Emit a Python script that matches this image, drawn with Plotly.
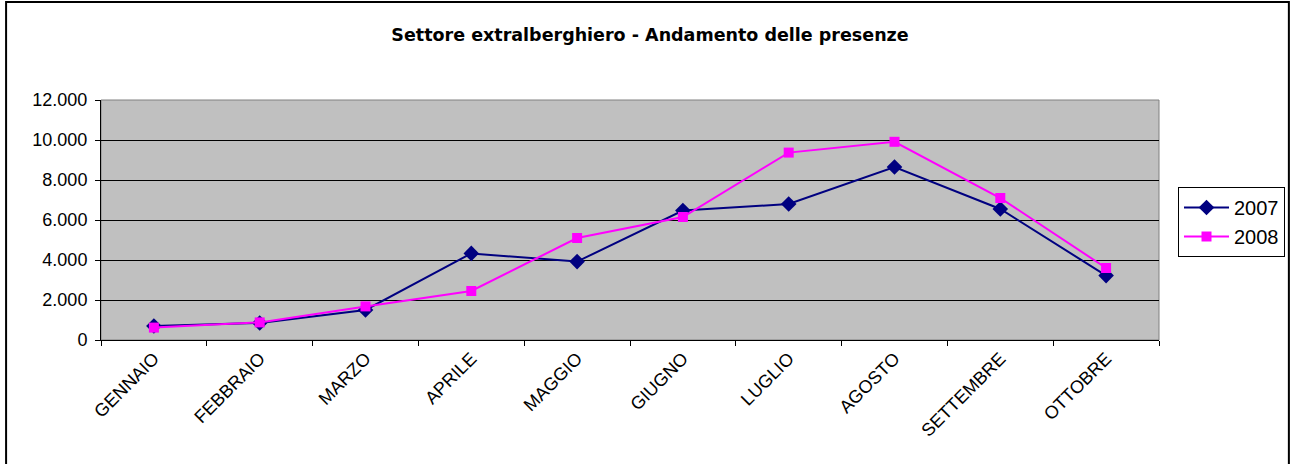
import plotly.graph_objects as go

# dati
mesi = ['GENNAIO', 'FEBBRAIO', 'MARZO', 'APRILE', 'MAGGIO', 'GIUGNO',
        'LUGLIO', 'AGOSTO', 'SETTEMBRE', 'OTTOBRE']
presenze_2007 = [700, 850, 1500, 4330, 3920, 6470, 6800, 8650, 6550, 3220]
presenze_2008 = [620, 880, 1680, 2450, 5100, 6150, 9370, 9910, 7100, 3600]

titolo = 'Settore extralberghiero - Andamento delle presenze'

fig = go.Figure()

fig.add_trace(go.Scatter(
    x=mesi, y=presenze_2007, name='2007', mode='lines+markers',
    line=dict(color='#000080', width=2),
    marker=dict(symbol='diamond', size=12, color='#000080')))

fig.add_trace(go.Scatter(
    x=mesi, y=presenze_2008, name='2008', mode='lines+markers',
    line=dict(color='#FF00FF', width=2),
    marker=dict(symbol='square', size=10, color='#FF00FF')))

font = 'Liberation Sans, Arial, sans-serif'

fig.update_layout(
    width=1296, height=464,
    margin=dict(l=101, r=136, t=100, b=124),
    paper_bgcolor='white',
    plot_bgcolor='#C0C0C0',
    separators=',.',
    font=dict(family=font, size=18, color='black'),
    title=dict(text='<b>' + titolo + '</b>', x=650 / 1296, xanchor='center',
               y=1 - 35 / 464, yanchor='middle',
               font=dict(family='DejaVu Sans, sans-serif', size=17.5, color='black')),
    showlegend=True,
    legend=dict(x=(1178 - 101) / 1059, y=(340 - 187) / 240,
                xanchor='left', yanchor='top',
                bordercolor='black', borderwidth=1,
                bgcolor='white', font=dict(size=20),
                tracegroupgap=0, itemwidth=45),
    xaxis=dict(type='category', tickangle=-45, showgrid=False,
               showline=True, linecolor='black', linewidth=1,
               ticks='outside', ticklen=5, tickcolor='black',
               tickson='boundaries', range=[-0.5, 9.5]),
    yaxis=dict(range=[0, 12000], dtick=2000, tickformat=',d',
               showgrid=True, gridcolor='black', gridwidth=1,
               showline=True, linecolor='black', linewidth=1,
               ticks='outside', ticklen=5, tickcolor='black',
               ticklabelstandoff=4, zeroline=False),
)

# bordo grigio dell'area del grafico
fig.add_shape(type='rect', xref='paper', yref='paper', x0=0, y0=0, x1=1, y1=1,
              line=dict(color='#808080', width=1), layer='below')

# cornice esterna del grafico
fig.add_shape(type='rect', xref='paper', yref='paper',
              x0=(6 - 101) / 1059, x1=(1290 - 101) / 1059,
              y0=(340 - 470) / 240, y1=(340 - 2) / 240,
              line=dict(color='black', width=2))

fig.write_html('out.html', config={'displayModeBar': False},
               post_script="document.body.style.margin='0';")
